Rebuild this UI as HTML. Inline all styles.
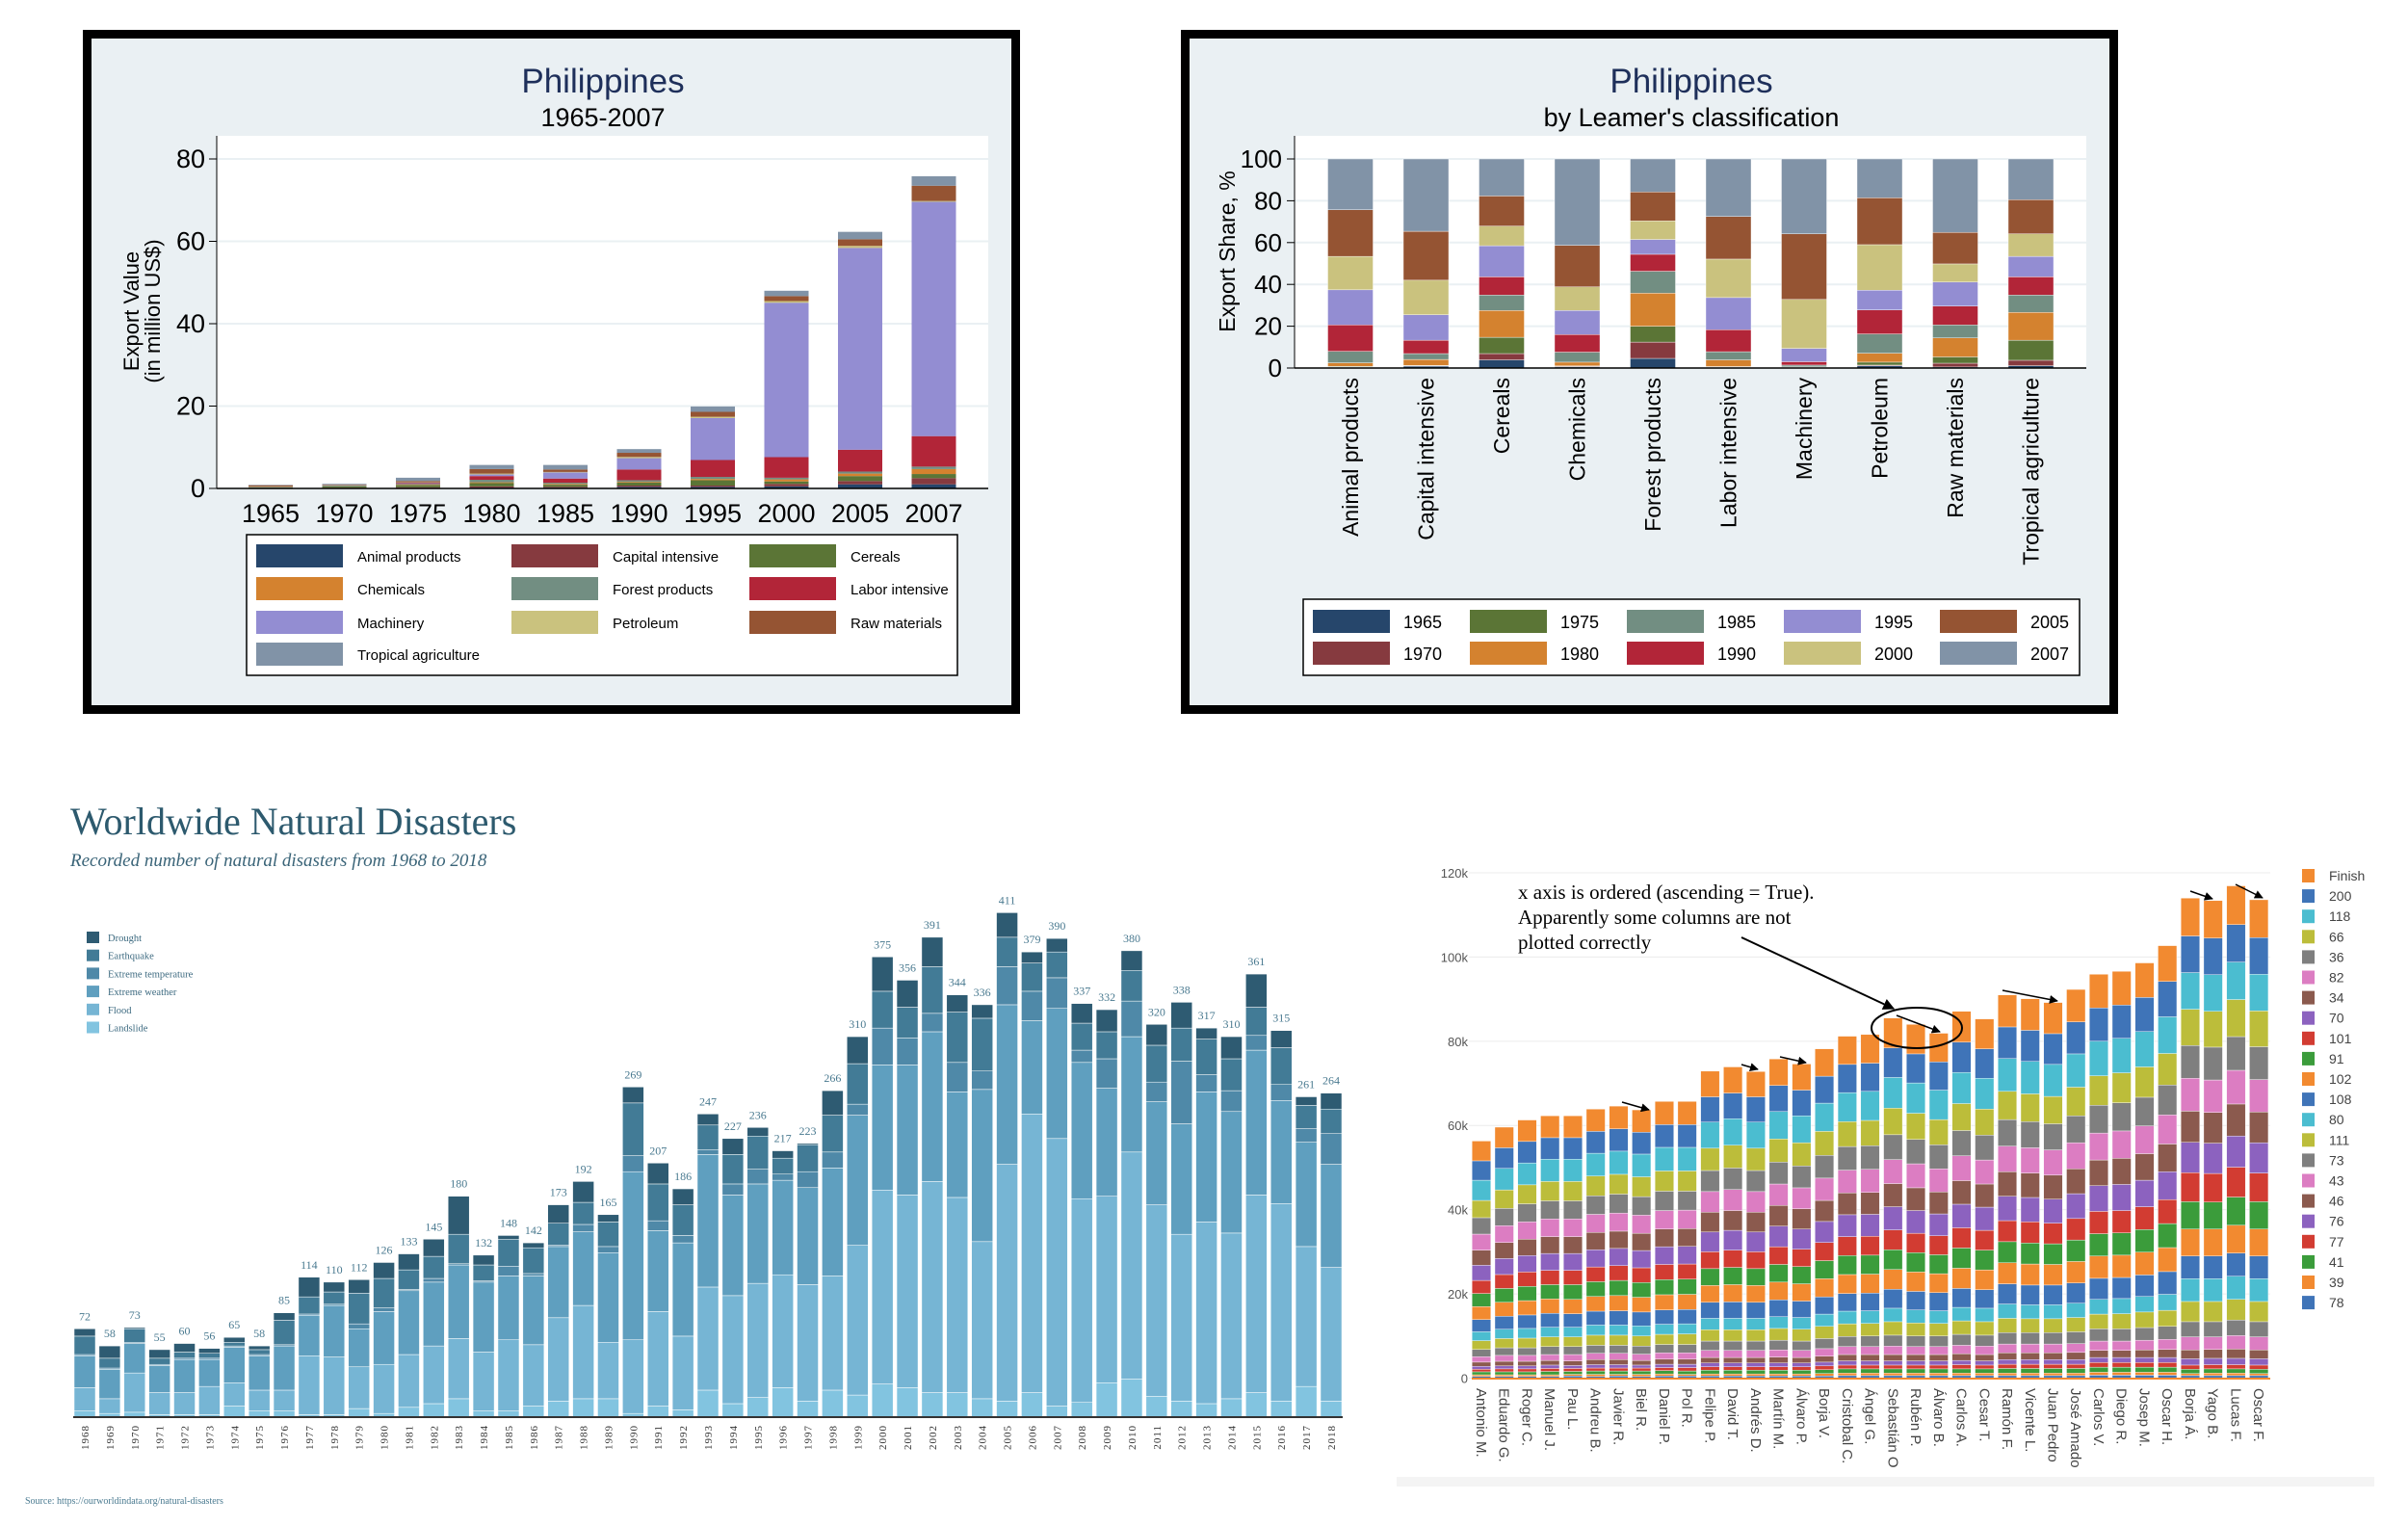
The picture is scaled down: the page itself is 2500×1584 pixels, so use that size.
<!DOCTYPE html>
<html><head><meta charset="utf-8"><title>Charts</title>
<style>
html,body{margin:0;padding:0;background:#fff;}
svg{display:block;}
.nar{font-family:"Liberation Sans Narrow","Liberation Sans",sans-serif;}
.san{font-family:"Liberation Sans",sans-serif;}
.ser{font-family:"Liberation Serif",serif;}
</style></head>
<body>
<svg id="root" xmlns="http://www.w3.org/2000/svg" width="2500" height="1584" viewBox="0 0 2500 1584">
  <rect x="0" y="0" width="2500" height="1584" fill="#ffffff"/>
  <g id="p1">
    <rect x="90.5" y="35.5" width="964" height="701" fill="#eaf0f3" stroke="#000" stroke-width="9"/>
    <rect x="225" y="141" width="801" height="366" fill="#ffffff"/>
    <text x="626" y="96" text-anchor="middle" font-size="35" fill="#1e2f5a" class="nar">Philippines</text>
    <text x="626" y="131" text-anchor="middle" font-size="27" fill="#000" class="nar">1965-2007</text>
    <text transform="translate(144,323) rotate(-90)" text-anchor="middle" font-size="22" class="san">Export Value</text>
    <text transform="translate(166,323) rotate(-90)" text-anchor="middle" font-size="22" class="san">(in million US$)</text>
    <rect x="256" y="555" width="738" height="146" fill="#fff" stroke="#000" stroke-width="1.5"/>
  </g>
  <g id="p2">
    <rect x="1230.5" y="35.5" width="964" height="701" fill="#eaf0f3" stroke="#000" stroke-width="9"/>
    <rect x="1344" y="141" width="822" height="241" fill="#ffffff"/>
    <text x="1756" y="96" text-anchor="middle" font-size="35" fill="#1e2f5a" class="nar">Philippines</text>
    <text x="1756" y="131" text-anchor="middle" font-size="27" fill="#000" class="nar">by Leamer's classification</text>
    <text transform="translate(1282,261) rotate(-90)" text-anchor="middle" font-size="23" class="san">Export Share, %</text>
    <rect x="1353" y="622" width="806" height="79" fill="#fff" stroke="#000" stroke-width="1.5"/>
  </g>
  <g id="p3">
    <text x="73" y="866" font-size="40" fill="#2d5a6e" class="ser">Worldwide Natural Disasters</text>
    <text x="73" y="899" font-size="19" font-style="italic" fill="#3a6478" class="ser">Recorded number of natural disasters from 1968 to 2018</text>
    <text x="26" y="1561" font-size="10" fill="#4a7a90" class="ser">Source: https://ourworldindata.org/natural-disasters</text>
  </g>
  <g id="p4">
    <rect x="1450" y="1533" width="1015" height="10" fill="#f4f4f4"/>
  </g>
</svg>
<script>
// ---------- Panel 1 data ----------
var p1Years = ['1965','1970','1975','1980','1985','1990','1995','2000','2005','2007'];
var p1Animal = [0.05,0.05,0.1,0.2,0.2,0.4,0.4,0.5,1.0,1.0];
var p1Capital = [0.1,0.1,0.2,0.3,0.2,0.3,0.3,0.6,0.8,1.5];
var p1Cereals = [0.1,0.3,0.5,0.8,0.5,0.7,1.3,0.6,1.2,1.0];
var p1Chemicals = [0.05,0.05,0.1,0.2,0.2,0.2,0.3,0.5,0.6,1.2];
var p1Forest = [0.1,0.2,0.2,0.6,0.3,0.4,0.5,0.4,0.5,0.6];
var p1Labor = [0.02,0.05,0.2,0.9,1.0,2.6,4.1,5.0,5.3,7.4];
var p1Machinery = [0,0.02,0.1,0.4,1.5,2.75,10.2,37.5,49,56.9];
var p1Petroleum = [0.05,0.05,0.1,0.2,0.1,0.3,0.3,0.4,0.5,0.2];
var p1Raw = [0.3,0.1,0.3,1.1,0.6,1.0,1.2,1.2,1.6,3.7];
var p1Tropical = [0.1,0.2,0.8,1.0,1.1,0.9,1.3,1.3,1.8,2.3];
var p1Ticks = [0,20,40,60,80];
var catNames = ['Animal products','Capital intensive','Cereals','Chemicals','Forest products','Labor intensive','Machinery','Petroleum','Raw materials','Tropical agriculture'];

// ---------- Panel 2 data (share %, stacked by year) ----------
var shAnimal = [0.3,0.2,0.3,1.7,5.5,12.6,16.8,16,22.3,24.3];
var shCapital = [0.9,0.1,0.2,2.9,2.8,6.4,12.2,16.5,23.4,34.6];
var shCereals = [3.9,3,7.8,12.8,7.4,8.7,14.9,9.4,14.4,17.7];
var shChemicals = [0.5,0.3,0.2,1.8,4.8,8.4,11.5,11.3,19.9,41.3];
var shForest = [4.6,7.8,7.6,15.8,10.5,8.1,7.1,8.9,13.8,15.8];
var shLabor = [0.3,0.2,0.2,3.2,3.9,10.5,15.4,18.4,20.4,27.5];
var shMachinery = [0.1,0.1,0.2,0.2,0.8,1.6,6.4,23.4,31.4,35.8];
var shPetroleum = [1,0.4,1.4,4.3,9.2,11.5,9.4,21.8,22.4,18.6];
var shRaw = [0.5,1.8,3,9.1,6.2,9,11.5,8.7,15.1,35.1];
var shTropical = [1.1,2.6,9.6,13.3,8.3,8.7,9.8,10.8,16.3,19.5];
var p2Ticks = [0,20,40,60,80,100];

// ---------- Panel 3 data ----------
var dYears = [];
for (var yy = 1968; yy <= 2018; yy++) dYears.push(String(yy));
var dLandslide = [5,3,4,2,2,2,9,5,5,2,2,7,3,8,11,15,5,5,9,13,15,15,3,9,6,22,11,16,24,13,22,18,27,24,20,20,15,13,20,9,12,28,31,17,13,11,15,20,13,25,13];
var dFlood = [19,12,32,18,18,23,19,17,17,48,47,34,40,43,47,49,48,58,50,68,76,46,60,77,60,84,88,93,92,95,93,122,158,157,172,159,128,193,227,218,166,152,185,156,136,148,135,161,161,114,109];
var dWeather = [26,24,24,22,27,22,29,28,36,33,42,31,43,52,52,60,57,52,56,58,60,73,137,66,76,108,82,81,77,79,88,106,102,106,122,86,124,130,76,106,111,88,94,84,90,106,99,118,84,85,84];
var dTemp = [1,1,1,1,1,1,1,1,1,1,1,4,3,1,3,1,1,8,2,1,6,5,13,8,6,4,9,12,5,13,13,9,30,22,15,24,15,31,24,25,10,24,29,16,51,14,17,12,13,11,25];
var dQuake = [15,8,11,5,5,4,3,4,20,14,10,25,24,16,18,24,13,22,21,18,18,20,43,30,25,20,24,27,13,22,30,33,30,25,38,41,43,24,23,21,22,22,25,30,27,29,26,23,30,19,20];
var dDrought = [6,10,1,7,7,4,4,3,6,16,8,11,13,13,14,31,8,3,4,15,17,6,13,17,13,9,13,7,6,1,20,22,28,22,24,14,11,20,9,11,16,18,16,17,21,9,18,27,14,7,13];
var dTotals = [72,58,73,55,60,56,65,58,85,114,110,112,126,133,145,180,132,148,142,173,192,165,269,207,186,247,227,236,217,223,266,310,375,356,391,344,336,411,379,390,337,332,380,320,338,317,310,361,315,261,264];

// ---------- Panel 4 data ----------
var rNames = ['Antonio M.','Eduardo G.','Roger C.','Manuel J.','Pau L.','Andreu B.','Javier R.','Biel R.','Daniel P.','Pol R.','Felipe P.','David T.','Andrés D.','Martín M.','Álvaro P.','Borja V.','Cristobal C.','Ángel G.','Sebastián O','Rubén P.','Álvaro B.','Carlos A.','Cesar T.','Ramón F.','Vicente L.','Juan Pedro','José Amado','Carlos V.','Diego R.','Josep M.','Oscar H.','Borja Á.','Yago B.','Lucas F.','Oscar F.'];
var rSeries = ['78','39','41','77','76','46','43','73','111','80','108','102','91','101','70','34','82','36','66','118','200','Finish'];
var rTicks = [0,20,40,60,80,100,120];
var rTimes = [
[.4,.4,.7,.6,.7,1.0,1.3,1.7,2.1,2.1,2.9,3.1,3.1,3.1,3.6,3.6,3.8,3.9,4.1,4.8,4.6,4.7],
[.4,.4,.7,.7,.7,1.1,1.4,1.8,2.2,2.2,3.1,3.3,3.3,3.3,3.8,3.8,4.0,4.1,4.4,5.1,4.9,4.9],
[.4,.4,.7,.7,.7,1.1,1.4,1.8,2.3,2.3,3.2,3.4,3.4,3.4,3.9,3.9,4.1,4.3,4.5,5.2,5.1,5.1],
[.4,.4,.8,.7,.8,1.1,1.4,1.9,2.3,2.3,3.3,3.4,3.4,3.4,4.0,4.0,4.2,4.3,4.6,5.3,5.1,5.2],
[.5,.4,.7,.7,.7,1.1,1.5,1.9,2.3,2.3,3.2,3.4,3.5,3.4,4.0,4.0,4.2,4.3,4.6,5.3,5.1,5.2],
[.4,.5,.8,.7,.8,1.2,1.5,1.9,2.4,2.4,3.3,3.5,3.5,3.5,4.1,4.1,4.3,4.4,4.7,5.4,5.2,5.3],
[.5,.4,.8,.7,.8,1.2,1.5,1.9,2.4,2.4,3.4,3.6,3.6,3.5,4.1,4.1,4.3,4.5,4.7,5.5,5.3,5.4],
[.4,.5,.8,.7,.7,1.1,1.5,1.9,2.4,2.4,3.3,3.5,3.5,3.5,4.1,4.1,4.3,4.4,4.7,5.4,5.2,5.3],
[.5,.5,.8,.7,.8,1.2,1.5,2.0,2.4,2.4,3.4,3.6,3.6,3.6,4.2,4.2,4.4,4.6,4.8,5.6,5.4,5.5],
[.5,.4,.8,.8,.8,1.2,1.5,2.0,2.5,2.4,3.4,3.6,3.6,3.6,4.2,4.2,4.4,4.5,4.8,5.6,5.4,5.5],
[.5,.5,.9,.8,.9,1.3,1.7,2.2,2.7,2.7,3.8,4.0,4.0,4.0,4.7,4.7,4.9,5.0,5.3,6.2,6.0,6.1],
[.5,.5,.9,.8,.9,1.3,1.7,2.2,2.7,2.7,3.9,4.1,4.1,4.1,4.7,4.7,5.0,5.1,5.4,6.3,6.1,6.2],
[.5,.5,.9,.8,.9,1.3,1.7,2.2,2.7,2.7,3.8,4.0,4.0,4.0,4.7,4.7,4.9,5.0,5.3,6.2,6.0,6.0],
[.5,.5,.9,.8,.9,1.4,1.7,2.3,2.8,2.8,4.0,4.2,4.2,4.2,4.9,4.9,5.1,5.2,5.5,6.5,6.2,6.3],
[.5,.5,.9,.8,.9,1.3,1.7,2.2,2.8,2.8,3.9,4.1,4.1,4.1,4.8,4.8,5.0,5.2,5.5,6.4,6.1,6.2],
[.5,.6,.9,.9,.9,1.4,1.8,2.4,2.9,2.9,4.1,4.3,4.3,4.3,5.0,5.0,5.3,5.4,5.7,6.7,6.4,6.5],
[.6,.6,1.0,.9,1.0,1.5,1.9,2.4,3.0,3.0,4.2,4.5,4.5,4.5,5.2,5.2,5.4,5.6,5.9,6.9,6.7,6.7],
[.6,.6,1.0,.9,1.0,1.5,1.9,2.5,3.0,3.0,4.2,4.5,4.5,4.5,5.2,5.2,5.5,5.6,6.0,6.9,6.7,6.8],
[.6,.6,1.0,.9,1.0,1.5,2.0,2.6,3.2,3.2,4.5,4.7,4.7,4.7,5.5,5.5,5.7,5.9,6.3,7.3,7.0,7.1],
[.6,.6,1.0,.9,1.0,1.5,1.9,2.5,3.1,3.1,4.4,4.6,4.6,4.6,5.4,5.4,5.7,5.8,6.2,7.2,6.9,7.0],
[.6,.6,1.0,.9,1.0,1.5,1.9,2.5,3.0,3.0,4.3,4.5,4.5,4.5,5.2,5.2,5.5,5.7,6.0,7.0,6.7,6.8],
[.6,.6,1.0,1.0,1.0,1.6,2.0,2.6,3.2,3.2,4.5,4.8,4.8,4.8,5.6,5.6,5.9,6.0,6.4,7.4,7.2,7.3],
[.6,.6,1.0,.9,1.0,1.5,2.0,2.6,3.2,3.2,4.4,4.7,4.7,4.7,5.5,5.5,5.7,5.9,6.2,7.3,7.0,7.1],
[.6,.6,1.1,1.0,1.1,1.6,2.1,2.7,3.4,3.4,4.8,5.0,5.0,5.0,5.8,5.8,6.1,6.3,6.7,7.8,7.5,7.6],
[.6,.6,1.1,1.0,1.1,1.6,2.1,2.7,3.3,3.3,4.7,5.0,5.0,5.0,5.8,5.8,6.0,6.2,6.6,7.7,7.4,7.5],
[.6,.6,1.1,1.0,1.1,1.6,2.1,2.7,3.3,3.3,4.7,4.9,4.9,4.9,5.7,5.7,6.0,6.2,6.5,7.6,7.3,7.4],
[.6,.6,1.1,1.0,1.1,1.7,2.1,2.8,3.4,3.4,4.8,5.1,5.1,5.1,5.9,5.9,6.2,6.4,6.8,7.9,7.6,7.7],
[.7,.7,1.2,1.1,1.2,1.7,2.2,2.9,3.5,3.5,5.0,5.3,5.3,5.3,6.1,6.1,6.4,6.6,7.0,8.2,7.9,8.0],
[.7,.7,1.2,1.1,1.2,1.7,2.2,2.9,3.6,3.6,5.0,5.3,5.3,5.3,6.2,6.2,6.5,6.7,7.1,8.2,7.9,8.0],
[.7,.7,1.2,1.1,1.2,1.8,2.3,3.0,3.7,3.7,5.1,5.4,5.4,5.4,6.3,6.3,6.6,6.8,7.2,8.4,8.1,8.2],
[.7,.7,1.2,1.1,1.2,1.9,2.4,3.1,3.8,3.8,5.4,5.7,5.7,5.7,6.6,6.6,6.9,7.1,7.5,8.7,8.4,8.5],
[.6,.5,1.0,1.0,1.5,2.1,3.1,3.6,4.8,5.4,5.4,6.4,6.5,6.9,7.2,7.4,7.8,7.8,8.6,8.7,8.7,9.0],
[.6,.6,1.0,1.0,1.5,2.1,3.0,3.6,4.8,5.4,5.4,6.4,6.4,6.8,7.2,7.3,7.7,7.8,8.5,8.7,8.7,8.9],
[.6,.6,1.0,1.0,1.5,2.2,3.2,3.7,4.9,5.5,5.5,6.6,6.7,7.1,7.4,7.6,8.0,8.0,8.8,8.9,8.9,9.2],
[.6,.5,1.0,1.0,1.5,2.1,3.1,3.6,4.8,5.4,5.4,6.4,6.5,6.8,7.2,7.3,7.7,7.8,8.5,8.7,8.7,9.0]
];

var NS = 'http://www.w3.org/2000/svg';
function el(tag, parent, attrs, txt) {
  var e = document.createElementNS(NS, tag);
  for (var k in attrs) e.setAttribute(k, attrs[k]);
  if (txt !== undefined) e.textContent = txt;
  parent.appendChild(e);
  return e;
}
var stataCols = ['#26466b','#863a3f','#5b7536','#d4822f','#728e82','#b22538','#938dd2','#cac27e','#955433','#8193a7'];

// ================= Panel 1 =================
(function(){
  var g = document.getElementById('p1');
  var y0 = 507, k = 4.275;
  function yS(v){ return y0 - v * k; }
  function xS(i){ return 281 + i * 76.5; }
  p1Ticks.forEach(function(t){
    if (t > 0) {
      var gl = el('line', g, {x1:225, x2:1026, y1:yS(t), y2:yS(t), stroke:'#eaf0f3', 'stroke-width':2});
      
      
    }
    var tk = el('line', g, {x1:217, x2:225, y1:yS(t), y2:yS(t), stroke:'#000', 'stroke-width':1});
    
    
    var tl = el('text', g, {x:213, y:yS(t)+9, 'text-anchor':'end', 'font-size':27, class:'nar'}, String(t));
    
    
  });
  var ax = el('line', g, {x1:225, x2:225, y1:141, y2:507, stroke:'#000', 'stroke-width':1});
  
  
  var series = [p1Animal,p1Capital,p1Cereals,p1Chemicals,p1Forest,p1Labor,p1Machinery,p1Petroleum,p1Raw,p1Tropical];
  p1Years.forEach(function(yr, i){
    var cum = 0;
    series.forEach(function(s, j){
      var v = s[i]; if (v <= 0) return;
      var r = el('rect', g, {x:xS(i)-23, y:yS(cum+v), width:46, height:v*k, fill:stataCols[j]});
      
      
      cum += v;
    });
    var xl = el('text', g, {x:xS(i), y:542, 'text-anchor':'middle', 'font-size':27, class:'nar'}, yr);
    
    
  });
  var bl = el('line', g, {x1:225, x2:1026, y1:507, y2:507, stroke:'#000', 'stroke-width':1.5});
  
  
  var colX = [266, 531, 778], rowY = [577, 611, 646, 679];
  catNames.forEach(function(n, j){
    var cx = colX[j % 3], cy = rowY[Math.floor(j / 3)];
    var sw = el('rect', g, {x:cx, y:cy-12, width:90, height:24, fill:stataCols[j]});
    
    
    var lt = el('text', g, {x:cx+105, y:cy+6, 'font-size':15, class:'nar'}, n);
    
    
  });
})();

// ================= Panel 2 =================
(function(){
  var g = document.getElementById('p2');
  var y0 = 382, k = 2.17;
  function yS(v){ return y0 - v * k; }
  function xS(i){ return 1402 + i * 78.5; }
  p2Ticks.forEach(function(t){
    if (t > 0) {
      var gl = el('line', g, {x1:1344, x2:2166, y1:yS(t), y2:yS(t), stroke:'#eaf0f3', 'stroke-width':2});
      
      
    }
    var tk = el('line', g, {x1:1336, x2:1344, y1:yS(t), y2:yS(t), stroke:'#000', 'stroke-width':1});
    
    
    var tl = el('text', g, {x:1331, y:yS(t)+9, 'text-anchor':'end', 'font-size':26, class:'nar'}, String(t));
    
    
  });
  var ax = el('line', g, {x1:1344, x2:1344, y1:141, y2:382, stroke:'#000', 'stroke-width':1});
  
  
  var cats = [shAnimal,shCapital,shCereals,shChemicals,shForest,shLabor,shMachinery,shPetroleum,shRaw,shTropical];
  cats.forEach(function(arr, i){
    var cum = 0;
    arr.forEach(function(v, j){
      var r = el('rect', g, {x:xS(i)-23.5, y:yS(cum+v), width:47, height:v*k, fill:stataCols[j], stroke:'#fff', 'stroke-width':0.4});
      
      
      cum += v;
    });
    var xl = el('text', g, {transform:'translate(' + (xS(i)+8) + ',392) rotate(-90)', 'text-anchor':'end', 'font-size':23, class:'san'}, catNames[i]);
    
    
  });
  var bl = el('line', g, {x1:1344, x2:2166, y1:382, y2:382, stroke:'#000', 'stroke-width':1.5});
  
  
  var colX = [1363, 1526, 1689, 1852, 2014], rowY = [645, 678];
  p1Years.forEach(function(yr, j){
    var cx = colX[Math.floor(j / 2)], cy = rowY[j % 2];
    var sw = el('rect', g, {x:cx, y:cy-12, width:80, height:24, fill:stataCols[j]});
    
    
    var lt = el('text', g, {x:cx+94, y:cy+7, 'font-size':18, class:'nar'}, yr);
    
    
  });
})();

// ================= Panel 3 =================
(function(){
  var g = document.getElementById('p3');
  var y0 = 1471, k = 1.274;
  function yS(v){ return y0 - v * k; }
  function xS(i){ return 88 + i * 25.88; }
  var dCols = ['#82c4e0','#76b5d4','#5f9fbf','#4f89a8','#427b96','#2e5b72'];
  var dNames = ['Landslide','Flood','Extreme weather','Extreme temperature','Earthquake','Drought'];
  var ser = [dLandslide,dFlood,dWeather,dTemp,dQuake,dDrought];
  dYears.forEach(function(yr, i){
    var cum = 0;
    ser.forEach(function(s, j){
      var v = s[i];
      var r = el('rect', g, {x:xS(i)-11, y:yS(cum+v), width:22, height:v*k, fill:dCols[j], stroke:'#ffffff', 'stroke-width':0.5});
      
      
      cum += v;
    });
    var vl = el('text', g, {x:xS(i), y:yS(cum)-9, 'text-anchor':'middle', 'font-size':12, fill:'#4a7a90', class:'ser'}, String(dTotals[i]));
    
    
    var xl = el('text', g, {transform:'translate(' + (xS(i)+4) + ',1479) rotate(-90)', 'text-anchor':'end', 'font-size':11, 'letter-spacing':1, fill:'#333', class:'ser'}, yr);
    
    
  });
  var bl = el('line', g, {x1:76, x2:1394, y1:1471, y2:1471, stroke:'#333', 'stroke-width':2});
  
  
  for (var j = 5; j >= 0; j--) {
    var row = 5 - j;
    var sw = el('rect', g, {x:90, y:967 + row*18.7, width:13, height:12, fill:dCols[j]});
    
    
    var lt = el('text', g, {x:112, y:977 + row*18.7, 'font-size':10.5, fill:'#3d6a80', class:'ser'}, dNames[j]);
    
    
  }
})();

// ================= Panel 4 =================
(function(){
  var g = document.getElementById('p4');
  var y0 = 1430.5, k = 4.371;
  function yS(v){ return y0 - v * k; }
  function xS(i){ return 1538 + i * 23.74; }
  var pc = ['#3f74b8','#f28a30','#3b9c3b','#d23c32','#8c62bf','#8b5a4e','#dc7dc2','#7f7f7f','#bcbd3a','#4bbdd0'];
  rTicks.forEach(function(t){
    var gl = el('line', g, {x1:1525, x2:2357, y1:yS(t), y2:yS(t), stroke:'#ececec', 'stroke-width':1});
    
    
    var tl = el('text', g, {x:1524, y:yS(t)+5, 'text-anchor':'end', 'font-size':13, fill:'#555', class:'san'}, t === 0 ? '0' : t + 'k');
    
    
  });
  rNames.forEach(function(n, i){
    var cum = 0;
    rTimes[i].forEach(function(v, j){
      var r = el('rect', g, {x:xS(i)-9.75, y:yS(cum+v), width:19.5, height:v*k, fill:pc[j % 10], stroke:'#ffffff', 'stroke-width':0.4});
      
      
      cum += v;
    });
    var xl = el('text', g, {transform:'translate(' + (xS(i)-5) + ',1441) rotate(90)', 'font-size':15, fill:'#444', class:'san'}, n);
    
    
  });
  var bl = el('line', g, {x1:1528, x2:2357, y1:1431, y2:1431, stroke:'#f28a30', 'stroke-width':2});
  
  
  for (var j = 21; j >= 0; j--) {
    var row = 21 - j;
    var sw = el('rect', g, {x:2390, y:902 + row*21.1, width:13, height:14, fill:pc[j % 10]});
    
    
    var lt = el('text', g, {x:2418, y:914 + row*21.1, 'font-size':14, fill:'#444', class:'san'}, rSeries[j]);
    
    
  }
  var lines = ['x axis is ordered (ascending = True).','Apparently some columns are not','plotted correctly'];
  lines.forEach(function(s, i){
    var t = el('text', g, {x:1576, y:933 + i*26, 'font-size':21, fill:'#000', class:'ser'}, s);
    
    
  });
  var defs = el('defs', g, {});
  var mk = el('marker', defs, {id:'ah', viewBox:'0 0 10 10', refX:'9', refY:'5', markerWidth:'6', markerHeight:'6', orient:'auto'});
  el('path', mk, {d:'M0,0 L10,5 L0,10 z', fill:'#000'});
  var arrows = [[1808,973,1966,1047,2],[1684,1144,1712,1152,1.5],[1808,1105,1825,1110,1.5],[1848,1097,1875,1103,1.5],[1969,1054,2014,1071,1.5],[2079,1028,2136,1039,1.5],[2274,925,2297,933,1.5],[2321,918,2349,932,1.5]];
  arrows.forEach(function(a){
    var l = el('line', g, {x1:a[0], y1:a[1], x2:a[2], y2:a[3], stroke:'#000', 'stroke-width':a[4], 'marker-end':'url(#ah)'});
    
    
  });
  var ell = el('ellipse', g, {cx:1990, cy:1067, rx:47, ry:21, fill:'none', stroke:'#000', 'stroke-width':2});
  
  
})();
</script>
</body></html>
